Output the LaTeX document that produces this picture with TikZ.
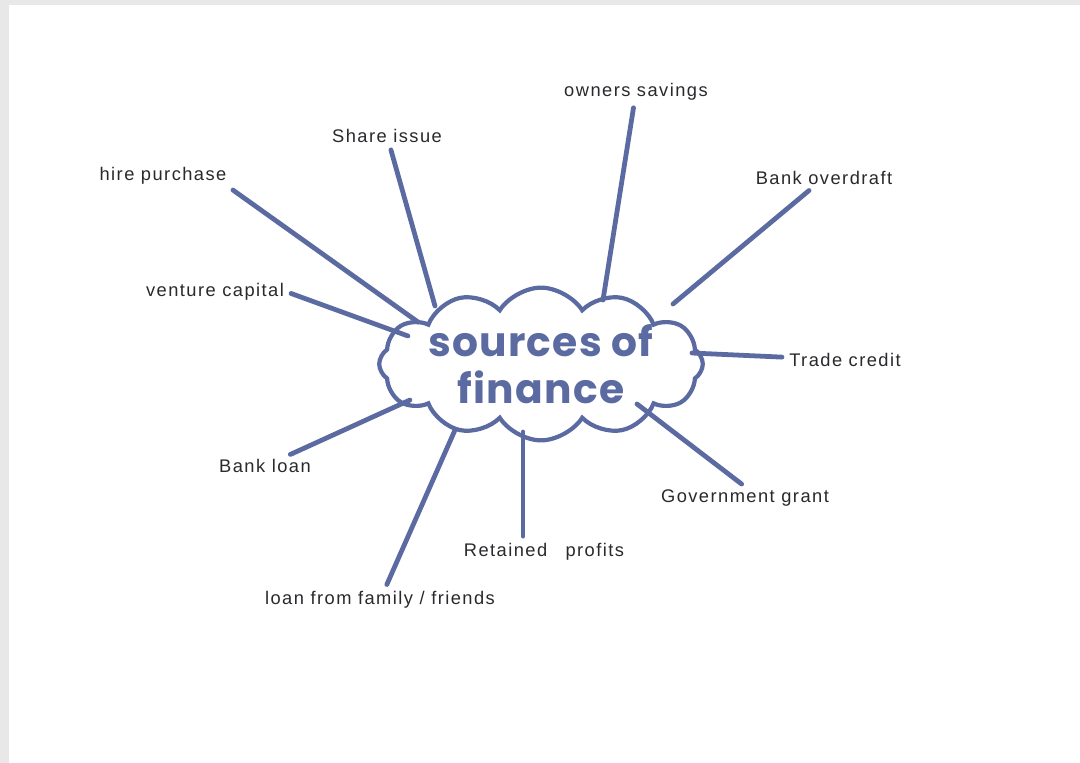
\documentclass[tikz,border=0pt]{standalone}
\usepackage{fontspec}
\setmainfont{Liberation Sans}[LetterSpace=8]
\newfontfamily\titlefont{Poppins}[LetterSpace=3]
\usepackage{xcolor}
\usetikzlibrary{shapes.symbols}
\definecolor{ink}{HTML}{5B6BA2}
\definecolor{pen}{HTML}{2A2A2E}

\begin{document}
\begin{tikzpicture}[x=0.025cm, y=-0.025cm,
    label/.style={text=pen, inner sep=2pt, font=\fontsize{13}{15}\selectfont},
    spoke/.style={draw=ink, line width=3.4pt, line cap=round, shorten <=3pt}]
        % paper
        \fill[gray!18] (0,0) rectangle (1080,763);
        \fill[white] (9,5) rectangle (1080,763);
        \useasboundingbox (0,0) rectangle (1080,763);

        % Central cloud
        \node[cloud, draw=ink, line width=3pt, cloud puffs=12, cloud puff arc=115,
              cloud ignores aspect, minimum width=7.4cm, minimum height=3.25cm,
              text=ink, align=center, inner sep=0pt,
              font=\titlefont\bfseries\fontsize{29}{33}\selectfont] (cloud) at (541,364)
              {sources of\\finance};

        % Ends of the spokes on the cloud
        \coordinate (c-own) at (603,300);
        \coordinate (c-share) at (435,306);
        \coordinate (c-hire) at (418,322);
        \coordinate (c-over) at (673,304);
        \coordinate (c-vent) at (408,336);
        \coordinate (c-trade) at (692,353);
        \coordinate (c-bloan) at (410,400);
        \coordinate (c-grant) at (637,404);
        \coordinate (c-ret) at (523,432);
        \coordinate (c-fam) at (455,430);

        % Labels
        \node[label] (owners) at (636,92) {owners savings};
        \node[label] (share) at (387,136) {Share issue};
        \node[label] (hire) at (163,176) {hire purchase};
        \node[label] (overdraft) at (824,178) {Bank overdraft};
        \node[label] (venture) at (215,292) {venture capital};
        \node[label] (trade) at (845,360) {Trade credit};
        \node[label] (bankloan) at (265,466) {Bank loan};
        \node[label] (grant) at (745,498) {Government grant};
        \node[label] (retained) at (544,552) {Retained\quad profits};
        \node[label] (family) at (380,600) {loan from family / friends};

        % Spokes
        \draw[spoke] (owners) -- (c-own);
        \draw[spoke] (share) -- (c-share);
        \draw[spoke] (hire.south east) -- (c-hire);
        \draw[spoke] (overdraft) -- (c-over);
        \draw[spoke] (venture.east) -- (c-vent);
        \draw[spoke] (trade) -- (c-trade);
        \draw[spoke] (bankloan) -- (c-bloan);
        \draw[spoke] (grant.north) -- (c-grant);
        \draw[spoke] (c-ret |- retained.north) -- (c-ret);
        \draw[spoke] (family) -- (c-fam);
    \end{tikzpicture}
\end{document}
